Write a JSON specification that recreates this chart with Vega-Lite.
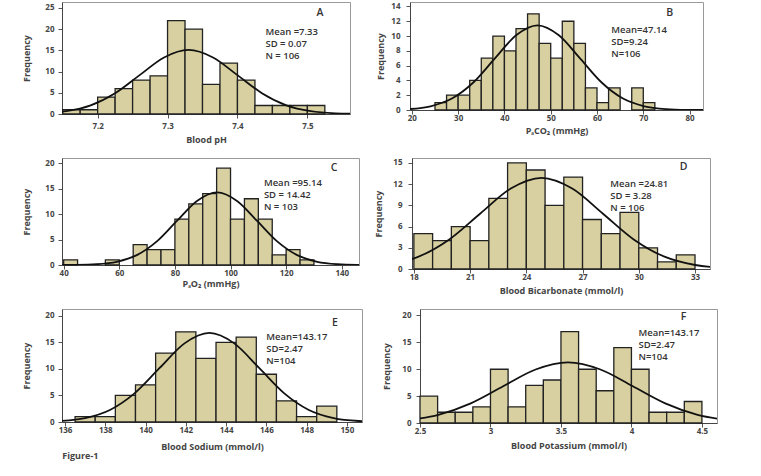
{
  "$schema": "https://vega.github.io/schema/vega-lite/v6.json",
  "padding": {"left": 22, "top": 1, "right": 5, "bottom": 4},
  "background": "white",
  "config": {
    "view": {"stroke": "#999999", "strokeWidth": 1},
    "axis": {"grid": false, "labelFont": "Open Sans", "labelFontWeight": "bold", "labelFontSize": 8, "labelColor": "#444", "titleFont": "Open Sans", "titleFontWeight": "bold", "titleFontSize": 9, "titleColor": "#444", "domainColor": "#444", "tickColor": "#555", "tickSize": 4, "labelFlush": false, "labelOverlap": false},
    "text": {"font": "Open Sans", "fontSize": 9.5, "fontWeight": 600, "color": "#333"},
    "title": {"font": "Open Sans", "fontSize": 9, "fontWeight": "bold", "color": "#444"}
  },
  "title": {"text": "Figure-1", "orient": "bottom", "anchor": "start", "dx": 40, "offset": 0},
  "vconcat": [
    {"hconcat": [
      {"width": 288, "height": 112,
       "layer": [
         {"encoding": {
            "x": {"field": "x", "type": "quantitative", "title": "Blood pH", "scale": {"domain": [7.149, 7.561], "nice": false, "zero": false}, "axis": {"values": [7.2, 7.3, 7.4, 7.5], "format": "~g", "labelPadding": 4, "titlePadding": 5}},
            "y": {"field": "y", "type": "quantitative", "title": "Frequency", "scale": {"domain": [0, 26.4], "nice": false}, "axis": {"values": [0, 5, 10, 15, 20, 25], "labelPadding": 4, "titlePadding": 13}}
          },
          "layer": [
           {"data": {"values": [
             {"x": 7.15, "x2": 7.175, "y": 1}, {"x": 7.175, "x2": 7.2, "y": 1}, {"x": 7.2, "x2": 7.225, "y": 4}, {"x": 7.225, "x2": 7.25, "y": 6}, {"x": 7.25, "x2": 7.275, "y": 8}, {"x": 7.275, "x2": 7.3, "y": 9}, {"x": 7.3, "x2": 7.325, "y": 22}, {"x": 7.325, "x2": 7.35, "y": 20}, {"x": 7.35, "x2": 7.375, "y": 7}, {"x": 7.375, "x2": 7.4, "y": 12}, {"x": 7.4, "x2": 7.425, "y": 8}, {"x": 7.425, "x2": 7.45, "y": 2}, {"x": 7.45, "x2": 7.475, "y": 2}, {"x": 7.475, "x2": 7.5, "y": 2}, {"x": 7.5, "x2": 7.525, "y": 2}]},
            "mark": {"type": "rect", "fill": "#d8d0a0", "stroke": "#222", "strokeWidth": 1.3},
            "encoding": {"x2": {"field": "x2"}, "y2": {"datum": 0}}},
           {"data": {"values": [
             {"x": 7.12, "y": 0.168}, {"x": 7.155, "y": 0.663}, {"x": 7.19, "y": 2.044}, {"x": 7.225, "y": 4.904}, {"x": 7.26, "y": 9.16}, {"x": 7.295, "y": 13.329}, {"x": 7.33, "y": 15.103}, {"x": 7.365, "y": 13.329}, {"x": 7.4, "y": 9.16}, {"x": 7.435, "y": 4.904}, {"x": 7.47, "y": 2.044}, {"x": 7.505, "y": 0.663}, {"x": 7.54, "y": 0.168}, {"x": 7.575, "y": 0.033}, {"x": 7.61, "y": 0.005}]},
            "mark": {"type": "line", "color": "#111", "strokeWidth": 1.8, "interpolate": "monotone", "clip": true}}
          ]},
         {"data": {"values": [{}]}, "mark": {"type": "text", "align": "left", "baseline": "top", "lineHeight": 12},
          "encoding": {
            "x": {"datum": 7.44, "title": "Blood pH", "axis": {"values": [7.2, 7.3, 7.4, 7.5], "format": "~g", "labelPadding": 4, "titlePadding": 5}},
            "y": {"datum": 20.5, "title": "Frequency", "axis": {"values": [0, 5, 10, 15, 20, 25], "labelPadding": 4, "titlePadding": 13}},
            "text": {"value": ["Mean =7.33", "SD = 0.07", "N = 106"]}}},
         {"data": {"values": [{}]}, "mark": {"type": "text", "align": "center", "baseline": "middle", "fontSize": 10.5},
          "encoding": {
            "x": {"datum": 7.518, "title": "Blood pH", "axis": {"values": [7.2, 7.3, 7.4, 7.5], "format": "~g", "labelPadding": 4, "titlePadding": 5}},
            "y": {"datum": 23.8, "title": "Frequency", "axis": {"values": [0, 5, 10, 15, 20, 25], "labelPadding": 4, "titlePadding": 13}},
            "text": {"value": "A"}}}
       ]},
      {"width": 293, "height": 108,
       "layer": [
         {"encoding": {
            "x": {"field": "x", "type": "quantitative", "title": "PₐCO₂ (mmHg)", "scale": {"domain": [19.6, 82.9], "nice": false, "zero": false}, "axis": {"values": [20, 30, 40, 50, 60, 70, 80], "labelPadding": 0, "titlePadding": 4}},
            "y": {"field": "y", "type": "quantitative", "title": "Frequency", "scale": {"domain": [0, 14.6], "nice": false}, "axis": {"values": [0, 2, 4, 6, 8, 10, 12, 14], "labelPadding": 6, "titlePadding": 5}}
          },
          "layer": [
           {"data": {"values": [
             {"x": 25, "x2": 27.5, "y": 1}, {"x": 27.5, "x2": 30, "y": 2}, {"x": 30, "x2": 32.5, "y": 2}, {"x": 32.5, "x2": 35, "y": 4}, {"x": 35, "x2": 37.5, "y": 7}, {"x": 37.5, "x2": 40, "y": 10}, {"x": 40, "x2": 42.5, "y": 8}, {"x": 42.5, "x2": 45, "y": 11}, {"x": 45, "x2": 47.5, "y": 13}, {"x": 47.5, "x2": 50, "y": 9}, {"x": 50, "x2": 52.5, "y": 7}, {"x": 52.5, "x2": 55, "y": 12}, {"x": 55, "x2": 57.5, "y": 9}, {"x": 57.5, "x2": 60, "y": 3}, {"x": 60, "x2": 62.5, "y": 1}, {"x": 62.5, "x2": 65, "y": 3}, {"x": 67.5, "x2": 70, "y": 3}, {"x": 70, "x2": 72.5, "y": 1}]},
            "mark": {"type": "rect", "fill": "#d8d0a0", "stroke": "#222", "strokeWidth": 1.3},
            "encoding": {"x2": {"field": "x2"}, "y2": {"datum": 0}}},
           {"data": {"values": [
             {"x": 19.42, "y": 0.127}, {"x": 24.04, "y": 0.502}, {"x": 28.66, "y": 1.548}, {"x": 33.28, "y": 3.715}, {"x": 37.9, "y": 6.94}, {"x": 42.52, "y": 10.098}, {"x": 47.14, "y": 11.442}, {"x": 51.76, "y": 10.098}, {"x": 56.38, "y": 6.94}, {"x": 61.0, "y": 3.715}, {"x": 65.62, "y": 1.548}, {"x": 70.24, "y": 0.502}, {"x": 74.86, "y": 0.127}, {"x": 79.48, "y": 0.025}, {"x": 84.1, "y": 0.004}]},
            "mark": {"type": "line", "color": "#111", "strokeWidth": 1.8, "interpolate": "monotone", "clip": true}}
          ]},
         {"data": {"values": [{}]}, "mark": {"type": "text", "align": "left", "baseline": "top", "lineHeight": 12},
          "encoding": {
            "x": {"datum": 63.1, "title": "PₐCO₂ (mmHg)", "axis": {"values": [20, 30, 40, 50, 60, 70, 80], "labelPadding": 0, "titlePadding": 4}},
            "y": {"datum": 11.5, "title": "Frequency", "axis": {"values": [0, 2, 4, 6, 8, 10, 12, 14], "labelPadding": 6, "titlePadding": 5}},
            "text": {"value": ["Mean=47.14", "SD=9.24", "N=106"]}}},
         {"data": {"values": [{}]}, "mark": {"type": "text", "align": "center", "baseline": "middle", "fontSize": 10.5},
          "encoding": {
            "x": {"datum": 75.7, "title": "PₐCO₂ (mmHg)", "axis": {"values": [20, 30, 40, 50, 60, 70, 80], "labelPadding": 0, "titlePadding": 4}},
            "y": {"datum": 13.1, "title": "Frequency", "axis": {"values": [0, 2, 4, 6, 8, 10, 12, 14], "labelPadding": 6, "titlePadding": 5}},
            "text": {"value": "B"}}}
       ]}
    ], "spacing": 25},
    {"hconcat": [
      {"width": 297, "height": 107,
       "layer": [
         {"encoding": {
            "x": {"field": "x", "type": "quantitative", "title": "PₐO₂ (mmHg)", "scale": {"domain": [39.4, 146.2], "nice": false, "zero": false}, "axis": {"values": [40, 60, 80, 100, 120, 140], "labelPadding": 0, "titlePadding": 2}},
            "y": {"field": "y", "type": "quantitative", "title": "Frequency", "scale": {"domain": [0, 21], "nice": false}, "axis": {"values": [0, 5, 10, 15, 20], "labelPadding": 4, "titlePadding": 13}}
          },
          "layer": [
           {"data": {"values": [
             {"x": 40, "x2": 45, "y": 1}, {"x": 55, "x2": 60, "y": 1}, {"x": 65, "x2": 70, "y": 4}, {"x": 70, "x2": 75, "y": 3}, {"x": 75, "x2": 80, "y": 3}, {"x": 80, "x2": 85, "y": 9}, {"x": 85, "x2": 90, "y": 12}, {"x": 90, "x2": 95, "y": 14}, {"x": 95, "x2": 100, "y": 19}, {"x": 100, "x2": 105, "y": 9}, {"x": 105, "x2": 110, "y": 13}, {"x": 110, "x2": 115, "y": 9}, {"x": 115, "x2": 120, "y": 2}, {"x": 120, "x2": 125, "y": 3}, {"x": 125, "x2": 130, "y": 1}]},
            "mark": {"type": "rect", "fill": "#d8d0a0", "stroke": "#222", "strokeWidth": 1.3},
            "encoding": {"x2": {"field": "x2"}, "y2": {"datum": 0}}},
           {"data": {"values": [
             {"x": 37.46, "y": 0.005}, {"x": 44.67, "y": 0.031}, {"x": 51.88, "y": 0.158}, {"x": 59.09, "y": 0.626}, {"x": 66.3, "y": 1.928}, {"x": 73.51, "y": 4.626}, {"x": 80.72, "y": 8.641}, {"x": 87.93, "y": 12.574}, {"x": 95.14, "y": 14.248}, {"x": 102.35, "y": 12.574}, {"x": 109.56, "y": 8.641}, {"x": 116.77, "y": 4.626}, {"x": 123.98, "y": 1.928}, {"x": 131.19, "y": 0.626}, {"x": 138.4, "y": 0.158}, {"x": 145.61, "y": 0.031}, {"x": 152.82, "y": 0.005}]},
            "mark": {"type": "line", "color": "#111", "strokeWidth": 1.8, "interpolate": "monotone", "clip": true}}
          ]},
         {"data": {"values": [{}]}, "mark": {"type": "text", "align": "left", "baseline": "top", "lineHeight": 12},
          "encoding": {
            "x": {"datum": 112, "title": "PₐO₂ (mmHg)", "axis": {"values": [40, 60, 80, 100, 120, 140], "labelPadding": 0, "titlePadding": 2}},
            "y": {"datum": 17, "title": "Frequency", "axis": {"values": [0, 5, 10, 15, 20], "labelPadding": 4, "titlePadding": 13}},
            "text": {"value": ["Mean =95.14", "SD = 14.42", "N = 103"]}}},
         {"data": {"values": [{}]}, "mark": {"type": "text", "align": "center", "baseline": "middle", "fontSize": 10.5},
          "encoding": {
            "x": {"datum": 137.2, "title": "PₐO₂ (mmHg)", "axis": {"values": [40, 60, 80, 100, 120, 140], "labelPadding": 0, "titlePadding": 2}},
            "y": {"datum": 19, "title": "Frequency", "axis": {"values": [0, 5, 10, 15, 20], "labelPadding": 4, "titlePadding": 13}},
            "text": {"value": "C"}}}
       ]},
      {"width": 298, "height": 111,
       "layer": [
         {"encoding": {
            "x": {"field": "x", "type": "quantitative", "title": "Blood Bicarbonate (mmol/l)", "scale": {"domain": [17.9, 33.8], "nice": false, "zero": false}, "axis": {"values": [18, 21, 24, 27, 30, 33], "labelPadding": 0, "titlePadding": 5}},
            "y": {"field": "y", "type": "quantitative", "title": "Frequency", "scale": {"domain": [0, 15.7], "nice": false}, "axis": {"values": [0, 3, 6, 9, 12, 15], "labelPadding": 6, "titlePadding": 9}}
          },
          "layer": [
           {"data": {"values": [
             {"x": 18, "x2": 19, "y": 5}, {"x": 19, "x2": 20, "y": 4}, {"x": 20, "x2": 21, "y": 6}, {"x": 21, "x2": 22, "y": 4}, {"x": 22, "x2": 23, "y": 10}, {"x": 23, "x2": 24, "y": 15}, {"x": 24, "x2": 25, "y": 14}, {"x": 25, "x2": 26, "y": 9}, {"x": 26, "x2": 27, "y": 13}, {"x": 27, "x2": 28, "y": 7}, {"x": 28, "x2": 29, "y": 5}, {"x": 29, "x2": 30, "y": 8}, {"x": 30, "x2": 31, "y": 3}, {"x": 31, "x2": 32, "y": 1}, {"x": 32, "x2": 33, "y": 2}]},
            "mark": {"type": "rect", "fill": "#d8d0a0", "stroke": "#222", "strokeWidth": 1.3},
            "encoding": {"x2": {"field": "x2"}, "y2": {"datum": 0}}},
           {"data": {"values": [
             {"x": 16.61, "y": 0.566}, {"x": 18.25, "y": 1.745}, {"x": 19.89, "y": 4.186}, {"x": 21.53, "y": 7.82}, {"x": 23.17, "y": 11.378}, {"x": 24.81, "y": 12.893}, {"x": 26.45, "y": 11.378}, {"x": 28.09, "y": 7.82}, {"x": 29.73, "y": 4.186}, {"x": 31.37, "y": 1.745}, {"x": 33.01, "y": 0.566}, {"x": 34.65, "y": 0.143}]},
            "mark": {"type": "line", "color": "#111", "strokeWidth": 1.8, "interpolate": "monotone", "clip": true}}
          ]},
         {"data": {"values": [{}]}, "mark": {"type": "text", "align": "left", "baseline": "top", "lineHeight": 12},
          "encoding": {
            "x": {"datum": 28.48, "title": "Blood Bicarbonate (mmol/l)", "axis": {"values": [18, 21, 24, 27, 30, 33], "labelPadding": 0, "titlePadding": 5}},
            "y": {"datum": 12.7, "title": "Frequency", "axis": {"values": [0, 3, 6, 9, 12, 15], "labelPadding": 6, "titlePadding": 9}},
            "text": {"value": ["Mean =24.81", "SD = 3.28", "N = 106"]}}},
         {"data": {"values": [{}]}, "mark": {"type": "text", "align": "center", "baseline": "middle", "fontSize": 10.5},
          "encoding": {
            "x": {"datum": 32.39, "title": "Blood Bicarbonate (mmol/l)", "axis": {"values": [18, 21, 24, 27, 30, 33], "labelPadding": 0, "titlePadding": 5}},
            "y": {"datum": 14.4, "title": "Frequency", "axis": {"values": [0, 3, 6, 9, 12, 15], "labelPadding": 6, "titlePadding": 9}},
            "text": {"value": "D"}}}
       ]}
    ], "spacing": 14},
    {"hconcat": [
      {"width": 300, "height": 113,
       "layer": [
         {"encoding": {
            "x": {"field": "x", "type": "quantitative", "title": "Blood Sodium (mmol/l)", "scale": {"domain": [135.85, 150.75], "nice": false, "zero": false}, "axis": {"values": [136, 138, 140, 142, 144, 146, 148, 150], "labelPadding": 0, "titlePadding": 8}},
            "y": {"field": "y", "type": "quantitative", "title": "Frequency", "scale": {"domain": [0, 21.3], "nice": false}, "axis": {"values": [0, 5, 10, 15, 20], "labelPadding": 4, "titlePadding": 13}}
          },
          "layer": [
           {"data": {"values": [
             {"x": 136.5, "x2": 137.5, "y": 1}, {"x": 137.5, "x2": 138.5, "y": 1}, {"x": 138.5, "x2": 139.5, "y": 5}, {"x": 139.5, "x2": 140.5, "y": 7}, {"x": 140.5, "x2": 141.5, "y": 13}, {"x": 141.5, "x2": 142.5, "y": 17}, {"x": 142.5, "x2": 143.5, "y": 12}, {"x": 143.5, "x2": 144.5, "y": 15}, {"x": 144.5, "x2": 145.5, "y": 16}, {"x": 145.5, "x2": 146.5, "y": 9}, {"x": 146.5, "x2": 147.5, "y": 4}, {"x": 147.5, "x2": 148.5, "y": 1}, {"x": 148.5, "x2": 149.5, "y": 3}]},
            "mark": {"type": "rect", "fill": "#d8d0a0", "stroke": "#222", "strokeWidth": 1.3},
            "encoding": {"x2": {"field": "x2"}, "y2": {"datum": 0}}},
           {"data": {"values": [
             {"x": 135.76, "y": 0.186}, {"x": 136.995, "y": 0.737}, {"x": 138.23, "y": 2.273}, {"x": 139.465, "y": 5.454}, {"x": 140.7, "y": 10.188}, {"x": 141.935, "y": 14.823}, {"x": 143.17, "y": 16.797}, {"x": 144.405, "y": 14.823}, {"x": 145.64, "y": 10.188}, {"x": 146.875, "y": 5.454}, {"x": 148.11, "y": 2.273}, {"x": 149.345, "y": 0.737}, {"x": 150.58, "y": 0.186}, {"x": 151.815, "y": 0.037}]},
            "mark": {"type": "line", "color": "#111", "strokeWidth": 1.8, "interpolate": "monotone", "clip": true}}
          ]},
         {"data": {"values": [{}]}, "mark": {"type": "text", "align": "left", "baseline": "top", "lineHeight": 12},
          "encoding": {
            "x": {"datum": 146.0, "title": "Blood Sodium (mmol/l)", "axis": {"values": [136, 138, 140, 142, 144, 146, 148, 150], "labelPadding": 0, "titlePadding": 8}},
            "y": {"datum": 16.9, "title": "Frequency", "axis": {"values": [0, 5, 10, 15, 20], "labelPadding": 4, "titlePadding": 13}},
            "text": {"value": ["Mean=143.17", "SD=2.47", "N=104"]}}},
         {"data": {"values": [{}]}, "mark": {"type": "text", "align": "center", "baseline": "middle", "fontSize": 10.5},
          "encoding": {
            "x": {"datum": 149.4, "title": "Blood Sodium (mmol/l)", "axis": {"values": [136, 138, 140, 142, 144, 146, 148, 150], "labelPadding": 0, "titlePadding": 8}},
            "y": {"datum": 18.6, "title": "Frequency", "axis": {"values": [0, 5, 10, 15, 20], "labelPadding": 4, "titlePadding": 13}},
            "text": {"value": "E"}}}
       ]},
      {"width": 297, "height": 114,
       "layer": [
         {"encoding": {
            "x": {"field": "x", "type": "quantitative", "title": "Blood Potassium (mmol/l)", "scale": {"domain": [2.5, 4.607], "nice": false, "zero": false}, "axis": {"values": [2.5, 3, 3.5, 4, 4.5], "format": "~g", "labelPadding": 0, "titlePadding": 6}},
            "y": {"field": "y", "type": "quantitative", "title": "Frequency", "scale": {"domain": [0, 21.2], "nice": false}, "axis": {"values": [0, 5, 10, 15, 20], "labelPadding": 5, "titlePadding": 10}}
          },
          "layer": [
           {"data": {"values": [
             {"x": 2.5, "x2": 2.625, "y": 5}, {"x": 2.625, "x2": 2.75, "y": 2}, {"x": 2.75, "x2": 2.875, "y": 2}, {"x": 2.875, "x2": 3.0, "y": 3}, {"x": 3.0, "x2": 3.125, "y": 10}, {"x": 3.125, "x2": 3.25, "y": 3}, {"x": 3.25, "x2": 3.375, "y": 7}, {"x": 3.375, "x2": 3.5, "y": 8}, {"x": 3.5, "x2": 3.625, "y": 17}, {"x": 3.625, "x2": 3.75, "y": 10}, {"x": 3.75, "x2": 3.875, "y": 6}, {"x": 3.875, "x2": 4.0, "y": 14}, {"x": 4.0, "x2": 4.125, "y": 10}, {"x": 4.125, "x2": 4.25, "y": 2}, {"x": 4.25, "x2": 4.375, "y": 2}, {"x": 4.375, "x2": 4.5, "y": 4}]},
            "mark": {"type": "rect", "fill": "#d8d0a0", "stroke": "#222", "strokeWidth": 1.3},
            "encoding": {"x2": {"field": "x2"}, "y2": {"datum": 0}}},
           {"data": {"values": [
             {"x": 2.4, "y": 0.495}, {"x": 2.63, "y": 1.525}, {"x": 2.86, "y": 3.661}, {"x": 3.09, "y": 6.838}, {"x": 3.32, "y": 9.95}, {"x": 3.55, "y": 11.274}, {"x": 3.78, "y": 9.95}, {"x": 4.01, "y": 6.838}, {"x": 4.24, "y": 3.661}, {"x": 4.47, "y": 1.525}, {"x": 4.7, "y": 0.495}]},
            "mark": {"type": "line", "color": "#111", "strokeWidth": 1.8, "interpolate": "monotone", "clip": true}}
          ]},
         {"data": {"values": [{}]}, "mark": {"type": "text", "align": "left", "baseline": "top", "lineHeight": 12},
          "encoding": {
            "x": {"datum": 4.05, "title": "Blood Potassium (mmol/l)", "axis": {"values": [2.5, 3, 3.5, 4, 4.5], "format": "~g", "labelPadding": 0, "titlePadding": 6}},
            "y": {"datum": 17.7, "title": "Frequency", "axis": {"values": [0, 5, 10, 15, 20], "labelPadding": 5, "titlePadding": 10}},
            "text": {"value": ["Mean=143.17", "SD=2.47", "N=104"]}}},
         {"data": {"values": [{}]}, "mark": {"type": "text", "align": "center", "baseline": "middle", "fontSize": 10.5},
          "encoding": {
            "x": {"datum": 4.37, "title": "Blood Potassium (mmol/l)", "axis": {"values": [2.5, 3, 3.5, 4, 4.5], "format": "~g", "labelPadding": 0, "titlePadding": 6}},
            "y": {"datum": 19.7, "title": "Frequency", "axis": {"values": [0, 5, 10, 15, 20], "labelPadding": 5, "titlePadding": 10}},
            "text": {"value": "F"}}}
       ]}
    ], "spacing": 19}
  ],
  "spacing": 12
}
